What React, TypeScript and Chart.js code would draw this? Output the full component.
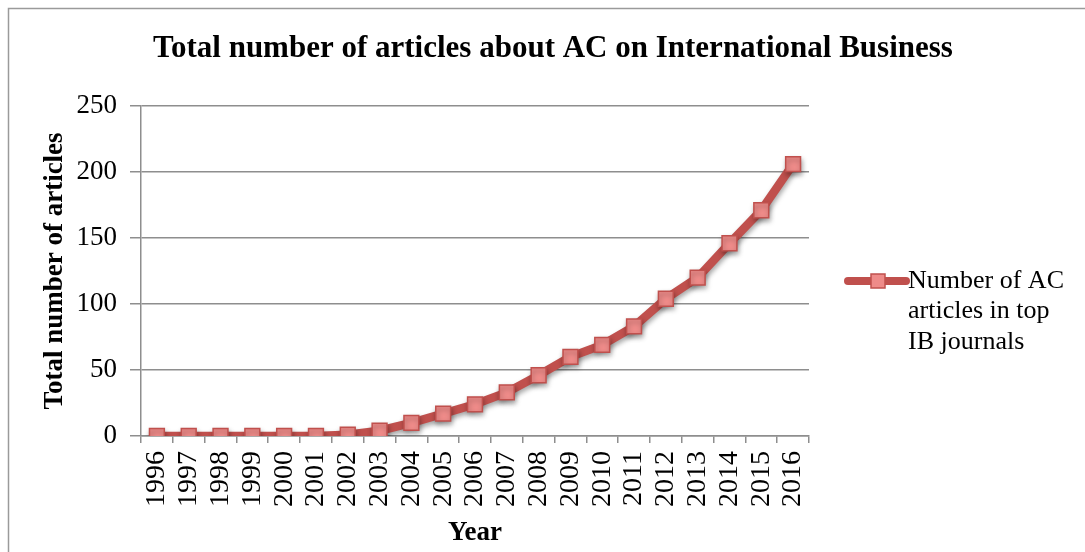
import React, { useEffect, useRef } from "react";
import { Chart, registerables } from "chart.js";

Chart.register(...registerables);

const years = ["1996","1997","1998","1999","2000","2001","2002","2003","2004","2005","2006","2007","2008","2009","2010","2011","2012","2013","2014","2015","2016"];
const articleCounts = [0, 0, 0, 0, 0, 0, 1, 4, 10, 17, 24, 33, 46, 60, 69, 83, 104, 120, 146, 171, 206];
const seriesLabel = ["Number of AC", "articles in top", "IB journals"];
const chartTitle = "Total number of articles about AC on International Business";
const yTitle = "Total number of articles";
const xTitle = "Year";

const LINE = "#c0504d";
const POINT_FILL = "#ee8b89";
const GRID = "#8e8e8e";
const SERIF = "'Liberation Serif', 'Times New Roman', serif";

const framePlugin = {
  id: "frame",
  beforeDraw(chart: any) {
    const ctx = chart.ctx;
    ctx.save();
    ctx.fillStyle = "#ffffff";
    ctx.fillRect(0, 0, chart.width, chart.height);
    ctx.strokeStyle = "#9a9a9a";
    ctx.lineWidth = 1.5;
    ctx.beginPath();
    ctx.moveTo(8.5, chart.height);
    ctx.lineTo(8.5, 8.5);
    ctx.lineTo(chart.width, 8.5);
    ctx.stroke();
    ctx.fillStyle = "#000000";
    ctx.font = "bold 31px " + SERIF;
    ctx.textAlign = "center";
    ctx.textBaseline = "alphabetic";
    ctx.fillText(chartTitle, 553, 57);
    ctx.restore();
  },
};

const shadowPlugin = {
  id: "lineShadow",
  beforeDatasetDraw(chart: any) {
    const ctx = chart.ctx;
    ctx.save();
    ctx.shadowColor = "rgba(0,0,0,0.35)";
    ctx.shadowBlur = 5;
    ctx.shadowOffsetX = 1;
    ctx.shadowOffsetY = 3;
  },
  afterDatasetDraw(chart: any) {
    chart.ctx.restore();
  },
};

const legendPlugin = {
  id: "customLegend",
  afterDraw(chart: any) {
    const ctx = chart.ctx;
    const x0 = 848;
    const x1 = 906;
    const y = 281;
    ctx.save();
    ctx.strokeStyle = LINE;
    ctx.lineWidth = 8;
    ctx.lineCap = "round";
    ctx.beginPath();
    ctx.moveTo(x0, y);
    ctx.lineTo(x1, y);
    ctx.stroke();
    ctx.fillStyle = POINT_FILL;
    ctx.strokeStyle = LINE;
    ctx.lineWidth = 1.5;
    ctx.fillRect(x0 + 23, y - 7, 14, 14);
    ctx.strokeRect(x0 + 23, y - 7, 14, 14);
    ctx.fillStyle = "#000000";
    ctx.font = "26px " + SERIF;
    ctx.textBaseline = "middle";
    ctx.textAlign = "left";
    seriesLabel.forEach((line, i) => {
      ctx.fillText(line, 908, y + i * 30.5);
    });
    ctx.restore();
  },
};

export default function App() {
  const canvasRef = useRef<HTMLCanvasElement | null>(null);

  useEffect(() => {
    const canvas = canvasRef.current;
    if (!canvas) return;
    const chart = new Chart(canvas, {
      type: "line",
      data: {
        labels: years,
        datasets: [
          {
            label: seriesLabel.join(" "),
            data: articleCounts,
            borderColor: LINE,
            borderWidth: 8.5,
            backgroundColor: POINT_FILL,
            pointStyle: "rect",
            pointRadius: 10.5,
            pointBackgroundColor: POINT_FILL,
            pointBorderColor: LINE,
            pointBorderWidth: 1.5,
            tension: 0,
            fill: false,
          },
        ],
      },
      options: {
        responsive: false,
        animation: false,
        layout: { padding: { left: 0, right: 276, top: 106, bottom: 0 } },
        plugins: {
          legend: { display: false },
          tooltip: { enabled: false },
          title: { display: false },
        },
        scales: {
          x: {
            offset: true,
            afterFit(scale: any) {
              scale.height = 116;
            },
            grid: {
              offset: true,
              drawOnChartArea: false,
              drawTicks: true,
              tickLength: 7,
              color: GRID,
              lineWidth: 1.5,
            },
            border: { display: true, color: GRID, width: 1.5 },
            ticks: {
              color: "#000000",
              font: { family: SERIF, size: 28 },
              minRotation: 90,
              maxRotation: 90,
              padding: 8,
              autoSkip: false,
            },
            title: {
              display: true,
              text: xTitle,
              color: "#000000",
              font: { family: SERIF, size: 27, weight: "bold" },
              padding: { top: 0, bottom: 3 },
            },
          },
          y: {
            min: 0,
            max: 250,
            afterFit(scale: any) {
              scale.width = 141;
            },
            ticks: {
              stepSize: 50,
              color: "#000000",
              font: { family: SERIF, size: 27 },
              padding: 13,
            },
            grid: {
              color: GRID,
              lineWidth: 1.5,
              tickLength: 11,
              drawTicks: true,
            },
            border: { display: true, color: GRID, width: 1.5 },
            title: {
              display: true,
              text: yTitle,
              color: "#000000",
              font: { family: SERIF, size: 27, weight: "bold" },
              padding: { top: 39, bottom: 0 },
            },
          },
        },
      },
      plugins: [framePlugin, shadowPlugin, legendPlugin],
    } as any);
    return () => chart.destroy();
  }, []);

  return (
    <div style={{ position: "fixed", left: 0, top: 0, width: 1085, height: 552 }}>
      <canvas ref={canvasRef} width={1085} height={552} style={{ display: "block" }} />
    </div>
  );
}
